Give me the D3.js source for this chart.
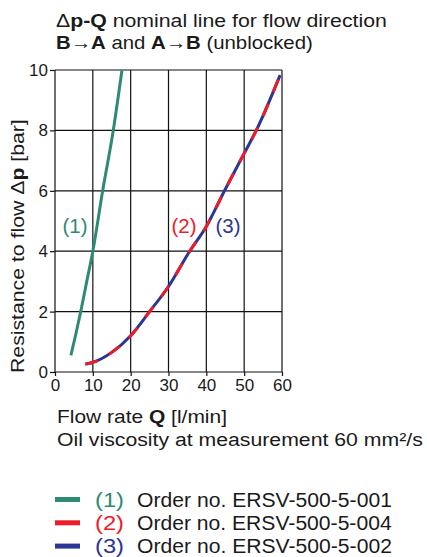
<!DOCTYPE html>
<head>
    <style>
        * { padding: 0; margin: 0; }
        body { background: #fff; }
        svg text { font-family: "Liberation Sans", Arial, sans-serif; fill: #1a1a1a; }
    </style>
    <script src="https://cdn.jsdelivr.net/npm/d3@7/dist/d3.min.js"></script>
</head>
<body>
    <script>
        /////////////////////////////////////////////////////
        // DATA
        /////////////////////////////////////////////////////

        const xTicks = [0, 10, 20, 30, 40, 50, 60]
        const yTicks = [0, 2, 4, 6, 8, 10]

        //(1) ERSV-500-5-001
        const flow1 = [4.2, 5.5, 6.8, 8.4, 10, 12.6, 15.4, 17.7]
        const dp1 = [0.55, 1.25, 2.0, 3.0, 4.0, 6.0, 8.0, 10.0]

        //(2) ERSV-500-5-004 and (3) ERSV-500-5-002 lie on the same curve
        const flow2 = [8, 10, 15, 20, 25, 30, 35.6, 40, 44.8, 50, 53.2, 59.5]
        const dp2 = [0.26, 0.32, 0.65, 1.2, 2.0, 2.83, 4.0, 4.82, 6.0, 7.24, 8.0, 9.83]
        const flow3 = flow2
        const dp3 = dp2

        const seriesLabels = ["(1)", "(2)", "(3)"]
        const orderNos = ["Order no. ERSV-500-5-001", "Order no. ERSV-500-5-004", "Order no. ERSV-500-5-002"]
        const colors = ["#2f8a73", "#ec1c2a", "#2b3595"]

        /////////////////////////////////////////////////////
        // SETUP
        /////////////////////////////////////////////////////

        const width = 427
        const height = 557

        const svg = d3.select("body").append("svg")
            .attr("width", width)
            .attr("height", height)

        const x = d3.scaleLinear().domain([0, 60]).range([55, 282])
        const y = d3.scaleLinear().domain([0, 10]).range([372, 70])

        //The original text is set wider than the available fonts, so stretch it horizontally
        function stretch(sel, tx, ty, targetW, rot) {
            const w = sel.node().getBBox().width
            const s = targetW / w
            sel.attr("transform", `translate(${tx},${ty})` + (rot ? ` rotate(${rot})` : "") + ` scale(${s},1)`)
            return sel
        }

        //Add a text made of (string, bold) parts
        function richText(parts, size) {
            const t = svg.append("text").style("font-size", size + "px")
            parts.forEach(p => {
                t.append("tspan").attr("font-weight", p[1] ? "bold" : null).text(p[0])
            })
            return t
        }

        /////////////////////////////////////////////////////
        // TITLE
        /////////////////////////////////////////////////////

        stretch(richText([["\u0394", 0], ["p-Q", 1], [" nominal line for flow direction", 0]], 18.5), 56, 26.5, 331)
        stretch(richText([["B", 1], ["\u2192", 0], ["A", 1], [" and ", 0], ["A", 1], ["\u2192", 0], ["B", 1], [" (unblocked)", 0]], 18.5), 56, 49, 257)

        /////////////////////////////////////////////////////
        // GRID AND AXES
        /////////////////////////////////////////////////////

        const grid = svg.append("g").attr("stroke", "#111").attr("stroke-width", 1.2)
        xTicks.forEach(d => {
            grid.append("line").attr("x1", x(d)).attr("x2", x(d)).attr("y1", y(0)).attr("y2", y(10))
        })
        yTicks.forEach(d => {
            grid.append("line").attr("x1", x(0)).attr("x2", x(60)).attr("y1", y(d)).attr("y2", y(d))
        })

        const xAxis = svg.append("g")
            .attr("transform", `translate(0,${y(0)})`)
            .call(d3.axisBottom(x).tickValues(xTicks).tickSize(4).tickPadding(3))
        const yAxis = svg.append("g")
            .attr("transform", `translate(${x(0)},0)`)
            .call(d3.axisLeft(y).tickValues(yTicks).tickSize(5).tickPadding(2))

        ;[xAxis, yAxis].forEach(a => {
            a.select(".domain").remove()
            a.selectAll(".tick line").attr("stroke", "#111").attr("stroke-width", 1.2)
            a.selectAll(".tick text")
                .style("font-family", "'Liberation Sans', Arial, sans-serif")
                .style("font-size", "17px")
                .attr("fill", "#1a1a1a")
        })

        //Axis titles
        stretch(richText([["Resistance to flow \u0394", 0], ["p", 1], [" [bar]", 0]], 18.5), 23.5, 373, 254, -90)
        stretch(richText([["Flow rate ", 0], ["Q", 1], [" [l/min]", 0]], 19), 57, 423, 170)
        stretch(richText([["Oil viscosity at measurement 60 mm\u00b2/s", 0]], 19), 57, 446, 366)

        /////////////////////////////////////////////////////
        // CURVES
        /////////////////////////////////////////////////////

        const line = d3.line()
            .x(d => x(d[0]))
            .y(d => y(d[1]))
            .curve(d3.curveMonotoneX)

        const curve1 = d3.zip(flow1, dp1)
        const curve2 = d3.zip(flow2, dp2)
        const curve3 = d3.zip(flow3, dp3)

        svg.append("path").datum(curve1).attr("d", line)
            .attr("fill", "none").attr("stroke", colors[0]).attr("stroke-width", 3)
        svg.append("path").datum(curve3).attr("d", line)
            .attr("fill", "none").attr("stroke", colors[2]).attr("stroke-width", 3)
        svg.append("path").datum(curve2).attr("d", line)
            .attr("fill", "none").attr("stroke", colors[1]).attr("stroke-width", 3)
            .attr("stroke-dasharray", "13,13")

        //Curve labels
        const labelX = [62.5, 171.5, 215.5]
        seriesLabels.forEach((s, i) => {
            const t = svg.append("text")
                .style("font-size", "19.5px")
                .style("fill", colors[i])
                .text(s)
            stretch(t, labelX[i], 233, 25)
        })

        /////////////////////////////////////////////////////
        // LEGEND
        /////////////////////////////////////////////////////

        orderNos.forEach((s, i) => {
            const ly = 499.5 + i * 23.3
            svg.append("line")
                .attr("x1", 55).attr("x2", 80).attr("y1", ly).attr("y2", ly)
                .attr("stroke", colors[i]).attr("stroke-width", 5)
            const lab = svg.append("text")
                .style("font-size", "19.5px")
                .style("fill", colors[i])
                .text(seriesLabels[i])
            stretch(lab, 95, ly + 7, 29)
            const txt = svg.append("text")
                .style("font-size", "19.5px")
                .text(s)
            stretch(txt, 137, ly + 7, 255)
        })
    </script>
</body>
